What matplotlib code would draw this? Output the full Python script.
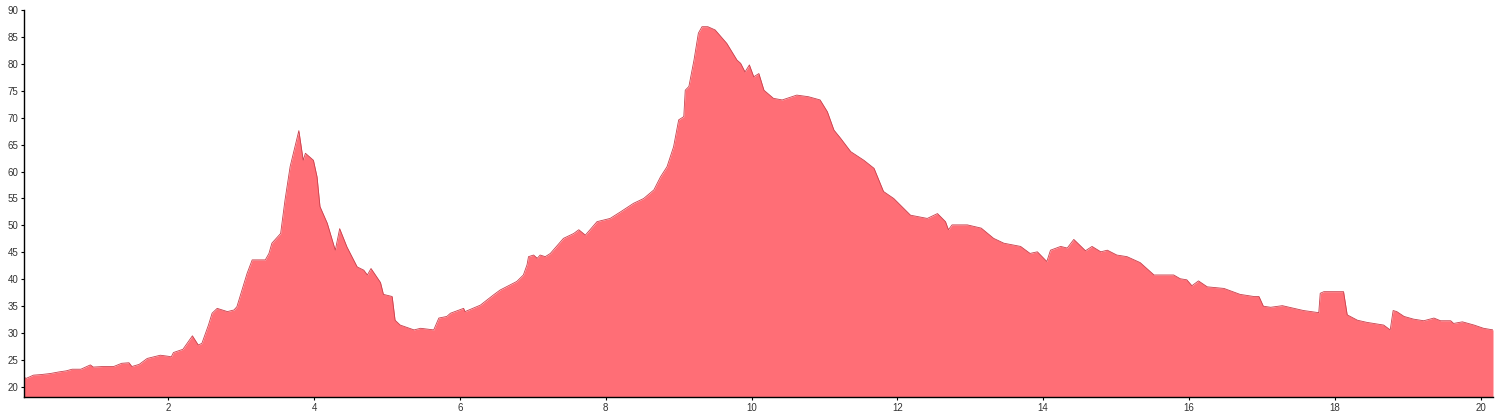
import matplotlib
matplotlib.use("Agg")
import matplotlib.pyplot as plt

xs = [0.02, 0.05, 0.15, 0.25, 0.38, 0.5, 0.6, 0.68, 0.8, 0.93, 0.97, 1.1, 1.25, 1.36, 1.46, 1.50,
      1.6, 1.71, 1.8, 1.89, 2.0, 2.04, 2.07, 2.2, 2.33, 2.41, 2.46, 2.55, 2.60, 2.67, 2.81, 2.90,
      2.94, 3.01, 3.08, 3.15, 3.33, 3.38, 3.42, 3.54, 3.60, 3.67, 3.79, 3.85, 3.88, 3.99, 4.04,
      4.08, 4.18, 4.29, 4.35, 4.45, 4.59, 4.68, 4.73, 4.78, 4.91, 4.95, 5.07, 5.11, 5.18, 5.37,
      5.46, 5.64, 5.71, 5.82, 5.87, 6.05, 6.07, 6.28, 6.46, 6.55, 6.78, 6.87, 6.92, 6.94, 7.01,
      7.06, 7.10, 7.17, 7.24, 7.42, 7.56, 7.63, 7.72, 7.88, 8.06, 8.20, 8.38, 8.52, 8.66, 8.75,
      8.84, 8.93, 9.00, 9.07, 9.09, 9.14, 9.21, 9.27, 9.32, 9.40, 9.50, 9.66, 9.80, 9.85, 9.91,
      9.97, 10.03, 10.10, 10.17, 10.30, 10.42, 10.62, 10.78, 10.94, 11.04, 11.13, 11.22, 11.36,
      11.54, 11.68, 11.81, 11.95, 12.18, 12.41, 12.55, 12.66, 12.70, 12.75, 12.96, 13.15, 13.32,
      13.46, 13.69, 13.82, 13.92, 14.05, 14.10, 14.24, 14.33, 14.42, 14.58, 14.67, 14.79, 14.88,
      15.01, 15.15, 15.33, 15.42, 15.52, 15.79, 15.88, 15.97, 16.04, 16.13, 16.25, 16.48, 16.70,
      16.89, 16.96, 17.02, 17.12, 17.28, 17.44, 17.57, 17.78, 17.80, 17.85, 18.12, 18.17, 18.31,
      18.44, 18.67, 18.76, 18.80, 18.85, 18.95, 19.08, 19.22, 19.36, 19.45, 19.59, 19.63, 19.75,
      19.91, 20.04, 20.17]
ys = [21.8, 21.6, 22.2, 22.3, 22.5, 22.8, 23.0, 23.3, 23.3, 24.1, 23.7, 23.8, 23.8, 24.4, 24.5, 23.8,
      24.2, 25.3, 25.6, 25.9, 25.7, 25.6, 26.4, 27.0, 29.5, 27.8, 28.1, 31.5, 33.7, 34.6, 34.0, 34.3,
      34.9, 38.0, 41.1, 43.6, 43.6, 44.8, 46.7, 48.5, 54.7, 60.9, 67.6, 62.1, 63.4, 62.1, 59.0,
      53.5, 50.4, 45.4, 49.4, 46.0, 42.3, 41.7, 40.8, 42.0, 39.4, 37.2, 36.8, 32.4, 31.5, 30.6,
      30.9, 30.6, 32.8, 33.1, 33.7, 34.6, 34.0, 35.2, 37.1, 38.0, 39.6, 40.8, 42.7, 44.2, 44.5,
      43.9, 44.5, 44.2, 44.8, 47.6, 48.5, 49.2, 48.2, 50.7, 51.3, 52.5, 54.1, 55.0, 56.6, 59.0,
      60.9, 64.6, 69.6, 70.2, 75.1, 75.8, 80.7, 85.7, 86.9, 86.9, 86.3, 83.8, 80.7, 80.1, 78.5,
      79.8, 77.6, 78.2, 75.1, 73.6, 73.3, 74.2, 73.9, 73.3, 71.1, 67.7, 66.2, 63.7,
      62.1, 60.6, 56.3, 55.0, 51.9, 51.3, 52.2, 50.7, 49.2, 50.1, 50.1, 49.5, 47.6,
      46.7, 46.1, 44.8, 45.1, 43.3, 45.4, 46.1, 45.8, 47.4, 45.3, 46.1, 45.1, 45.4,
      44.5, 44.2, 43.1, 42.0, 40.8, 40.8, 40.1, 39.9, 38.8, 39.7, 38.6, 38.3, 37.2,
      36.8, 36.8, 35.0, 34.8, 35.1, 34.6, 34.2, 33.8, 37.4, 37.7, 37.7, 33.4, 32.4,
      32.0, 31.5, 30.6, 34.2, 34.0, 33.1, 32.6, 32.3, 32.8, 32.3, 32.3, 31.8, 32.1,
      31.5, 30.9, 30.6]
xticks = [2, 4, 6, 8, 10, 12, 14, 16, 18, 20]
yticks = [20, 25, 30, 35, 40, 45, 50, 55, 60, 65, 70, 75, 80, 85, 90]

plt.rcParams['font.family'] = ['Liberation Sans', 'DejaVu Sans']
fig = plt.figure(figsize=(14.98, 4.13), dpi=100)
ax = fig.add_axes([24/1498, 16/413, (1493-24)/1498, (397-10)/413])
ymin = 18.14
ax.fill_between(xs, ys, ymin, color='#ff6e76', linewidth=0)
ax.plot(xs, ys, color='#c8404c', linewidth=0.6)
ax.set_xlim(0.02, 20.17)
ax.set_ylim(ymin, 90)
ax.set_xticks(xticks)
ax.set_yticks(yticks)
ax.set_xticklabels([str(t) for t in xticks])
ax.set_yticklabels([str(t) for t in yticks])
for s in ['top', 'right']:
    ax.spines[s].set_visible(False)
for s in ['left', 'bottom']:
    ax.spines[s].set_color('black')
    ax.spines[s].set_linewidth(1)
ax.tick_params(axis='both', length=2.5, width=0.8, color='black', labelsize=7, labelcolor='#333333', pad=1.5)
fig.savefig('out.png', dpi=100)
